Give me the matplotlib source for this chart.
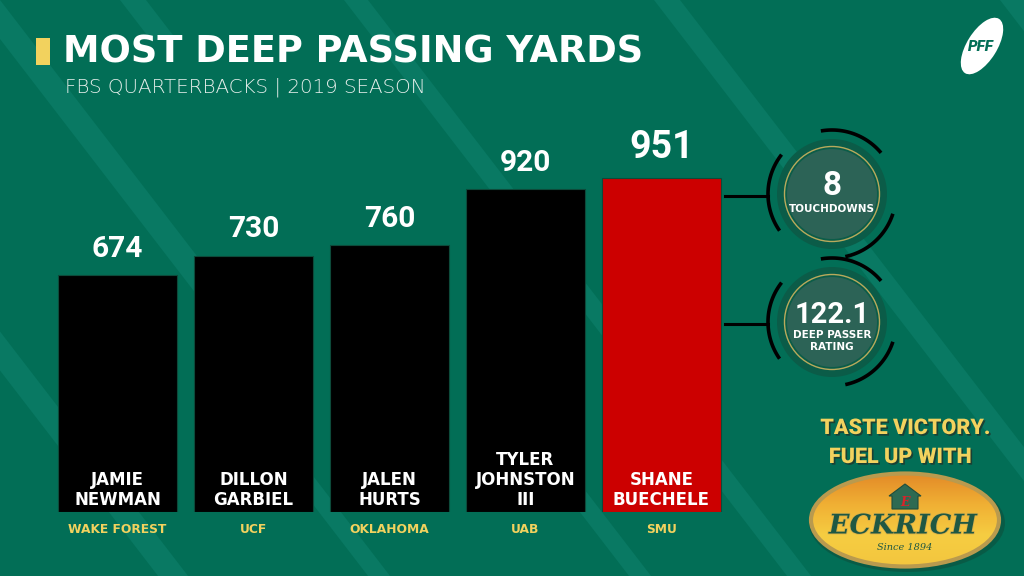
import numpy as np
import matplotlib
matplotlib.use("Agg")
import matplotlib.pyplot as plt
from matplotlib.patches import Circle, Ellipse, Polygon, Rectangle
import matplotlib.patheffects as pe

# ---- data ----
players = ["JAMIE\nNEWMAN", "DILLON\nGARBIEL", "JALEN\nHURTS", "TYLER\nJOHNSTON\nIII", "SHANE\nBUECHELE"]
teams = ["WAKE FOREST", "UCF", "OKLAHOMA", "UAB", "SMU"]
deep_yards = [674, 730, 760, 920, 951]
highlight = "SHANE\nBUECHELE"
badge_values = ["8", "122.1"]
badge_labels = ["TOUCHDOWNS", "DEEP PASSER\nRATING"]

title = "MOST DEEP PASSING YARDS"
subtitle = "FBS QUARTERBACKS | 2019 SEASON"

BG = "#026e56"
STRIPE = "#097963"
YELLOW = "#f2d25e"
RED = "#cc0000"

plt.rcParams["font.family"] = ["Roboto", "DejaVu Sans"]

fig = plt.figure(figsize=(10.24, 5.76), dpi=100)
fig.patch.set_facecolor(BG)

# background / decoration layer in pixel coordinates (y down)
bg = fig.add_axes([0, 0, 1, 1], zorder=0)
bg.set_xlim(0, 1024)
bg.set_ylim(576, 0)
bg.axis("off")


def band(x0, w, y0=0, y1=576, slope=1.3):
    # diagonal stripe: left edge at x0 when y=0, going down-right
    pts = [(x0 + y0 / slope, y0), (x0 + w + y0 / slope, y0),
           (x0 + w + y1 / slope, y1), (x0 + y1 / slope, y1)]
    bg.add_patch(Polygon(pts, closed=True, fc=STRIPE, ec="none", zorder=0))


band(-30, 30, 0, 300)
band(-285, 30, 330, 576)
band(-75, 22, 430, 576)
band(186, 22, 420, 576)
band(344, 24, 0, 576)
band(654, 26, 0, 576)
band(1000, 30, 0, 200)
band(120, 26, 0, 40)

# title block
bg.add_patch(Rectangle((36, 38), 14, 27, fc=YELLOW, ec="none", zorder=2))
bg.text(63, 52, title, color="white", fontsize=26.5, fontweight="bold",
        family="DejaVu Sans", va="center", ha="left", zorder=3)
bg.text(65, 87, subtitle, color="#e6efeb", fontsize=14.3, fontweight="light",
        family="DejaVu Sans", va="center", ha="left", zorder=3)

# PFF logo
bg.add_patch(Ellipse((982, 46), 64, 30, angle=-58, fc="white", ec="none", zorder=2))
bg.text(981, 47, "PFF", color=BG, fontsize=11, fontweight="black", style="italic",
        ha="center", va="center", zorder=3)


def arc(cx, cy, r, a0, a1, **kw):
    t = np.radians(np.linspace(a0, a1, 60))
    bg.plot(cx + r * np.cos(t), cy - r * np.sin(t), **kw)


# stat badges
badge_centers = [(832, 194), (832, 322)]
for (cx, cy), val, lab in zip(badge_centers, badge_values, badge_labels):
    bg.plot([725, 768], [cy + 2, cy + 2], color="black", lw=2.2, zorder=2)
    bg.add_patch(Circle((cx, cy), 55, fc="#0b5c48", ec="none", zorder=2))
    bg.add_patch(Circle((cx, cy), 47.5, fc="none", ec="#b9aa5c", lw=1.0, zorder=3))
    bg.add_patch(Circle((cx, cy), 45, fc="#2c6356", ec="none", zorder=3))
    for a0, a1 in [(40, 100), (142, 215), (-78, -18)]:
        arc(cx, cy, 64, a0, a1, color="black", lw=2.6, zorder=3, solid_capstyle="butt")
    if "\n" in lab:
        bg.text(cx, cy - 7, val, color="white", fontsize=21, fontweight="bold",
                ha="center", va="center", zorder=4)
        bg.text(cx, cy + 19, lab, color="white", fontsize=7.5, fontweight="bold",
                family="DejaVu Sans", ha="center", va="center", linespacing=1.35, zorder=4)
    else:
        bg.text(cx, cy - 8, val, color="white", fontsize=24, fontweight="bold",
                ha="center", va="center", zorder=4)
        bg.text(cx, cy + 15, lab, color="white", fontsize=7.5, fontweight="bold",
                family="DejaVu Sans", ha="center", va="center", zorder=4)

# sponsor
shadow = [pe.withSimplePatchShadow(offset=(1.2, -1.2), shadow_rgbFace="#1d3b30", alpha=0.9)]
bg.text(905, 428, "TASTE VICTORY.", color=YELLOW, fontsize=15.5, fontweight="black",
        ha="center", va="center", zorder=3, path_effects=shadow)
bg.text(900, 457, "FUEL UP WITH", color=YELLOW, fontsize=15.5, fontweight="black",
        ha="center", va="center", zorder=3, path_effects=shadow)

bg.add_patch(Ellipse((907, 523), 196, 98, fc="#0f4a38", ec="none", alpha=0.5, zorder=2))
oval = Ellipse((905, 520), 188, 93, fc="none", ec="#b99a4e", lw=3, zorder=4)
bg.add_patch(oval)
grad = np.linspace(0, 1, 100)[:, None]
cmap = matplotlib.colors.LinearSegmentedColormap.from_list(
    "eck", ["#e38a28", "#f0b034", "#f6cd42", "#f3c63e"])
im = bg.imshow(grad, cmap=cmap, extent=(811, 999, 567, 473), origin="upper",
               aspect="auto", zorder=3)
im.set_clip_path(oval)
bg.set_xlim(0, 1024)
bg.set_ylim(576, 0)
bg.add_patch(Polygon([(889, 496), (905, 484), (921, 496), (918, 496), (918, 509), (892, 509), (892, 496)],
                     closed=True, fc="#2e6a52", ec="#1f4d3c", lw=0.8, zorder=5))
bg.text(905, 502, "E", color="#d8232a", fontsize=9, fontweight="bold", style="italic",
        family="DejaVu Serif", ha="center", va="center", zorder=6)
bg.text(903, 526, "ECKRICH", color="#1f5843", fontsize=19.5, fontweight="bold", style="italic",
        family="DejaVu Serif", ha="center", va="center", zorder=6,
        path_effects=[pe.withStroke(linewidth=1.2, foreground="#d9b04a")])
bg.text(905, 548, "Since 1894", color="#1f5843", fontsize=7, style="italic",
        family="DejaVu Serif", ha="center", va="center", zorder=6)

# ---- bar chart ----
ax = fig.add_axes([49.5 / 1024, 64 / 576, 680 / 1024, 351 / 576], zorder=1)
ax.patch.set_alpha(0)
ax.set_xlim(-0.5, 4.5)
ax.set_ylim(0, 1000)
ax.axis("off")

x = np.arange(len(players))
colors = [RED if p == highlight else "black" for p in players]
ax.bar(x, deep_yards, width=0.87, color=colors, edgecolor="#0d4a3a", linewidth=0.8)

for i, (p, t, v) in enumerate(zip(players, teams, deep_yards)):
    big = p == highlight
    ax.annotate(str(v), (i, v), xytext=(0, 9), textcoords="offset points",
                ha="center", va="bottom", color="white", fontweight="bold",
                fontsize=27 if big else 21.5)
    ax.annotate(p, (i, 0), xytext=(0, 2.5), textcoords="offset points",
                ha="center", va="bottom", color="white", fontweight="bold",
                family="DejaVu Sans", fontsize=12, linespacing=1.12)
    ax.annotate(t, (i, 0), xytext=(0, -12.5), textcoords="offset points",
                ha="center", va="center", color=YELLOW, fontweight="bold",
                family="DejaVu Sans", fontsize=8.8)

fig.savefig("out.png", dpi=100, facecolor=BG)
